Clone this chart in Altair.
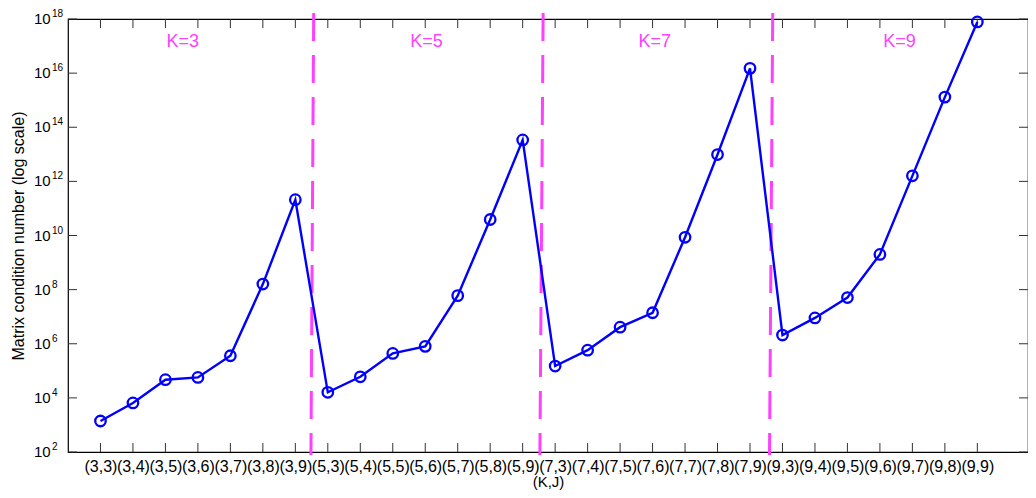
import altair as alt
import pandas as pd

# ---- data ----
labels = ["(3,3)", "(3,4)", "(3,5)", "(3,6)", "(3,7)", "(3,8)", "(3,9)",
          "(5,3)", "(5,4)", "(5,5)", "(5,6)", "(5,7)", "(5,8)", "(5,9)",
          "(7,3)", "(7,4)", "(7,5)", "(7,6)", "(7,7)", "(7,8)", "(7,9)",
          "(9,3)", "(9,4)", "(9,5)", "(9,6)", "(9,7)", "(9,8)", "(9,9)"]
cond = [1.4e3, 6.5e3, 4.7e4, 5.7e4, 3.6e5, 1.6e8, 2.1e11,
        1.6e4, 6.0e4, 4.4e5, 8.0e5, 6.0e7, 3.9e10, 3.4e13,
        1.5e5, 5.8e5, 4.1e6, 1.4e7, 8.6e9, 9.8e12, 1.5e16,
        2.1e6, 9.0e6, 5.1e7, 2.0e9, 1.6e12, 1.3e15, 7.8e17]
decades = [1e2, 1e4, 1e6, 1e8, 1e10, 1e12, 1e14, 1e16, 1e18]
exponents = ["2", "4", "6", "8", "10", "12", "14", "16", "18"]
sep_top = [7.565, 14.63, 21.7]
sep_bottom = [7.48, 14.53, 21.6]
group_names = ["K=3", "K=5", "K=7", "K=9"]
group_pos = [3.53, 11.04, 18.07, 25.6]

W, H = 960, 433
XDOM = [0, 29.56]
YDOM = [1e2, 1e18]
BLUE = "#0000ff"
MAGENTA = "#ff40ff"
FONT = "Liberation Sans"

df = pd.DataFrame({"x": list(range(1, len(labels) + 1)), "label": labels, "y": cond})
dec_df = pd.DataFrame({"y": decades, "e": exponents})
sep_df = pd.DataFrame({"x": sep_top, "xb": sep_bottom})
grp_df = pd.DataFrame({"g": group_names, "x": group_pos})

xscale = alt.Scale(domain=XDOM, nice=False, zero=False)
yscale = alt.Scale(type="log", domain=YDOM, nice=False)

label_js = "[" + ",".join("'" + s + "'" for s in labels) + "]"

xaxis = alt.Axis(values=list(range(1, len(labels) + 1)),
                 labelExpr=label_js + "[datum.value - 1]",
                 labelFont=FONT, labelFontSize=16, labelColor="black",
                 labelPadding=6, labelOverlap=False, labelBound=False,
                 labelFlush=False, ticks=False, domain=False, grid=False,
                 title="(K,J)", titleFont=FONT, titleFontSize=15,
                 titleFontWeight="normal", titleColor="black", titlePadding=0)
yaxis = alt.Axis(labels=False, ticks=False, domain=False, grid=False,
                 title="Matrix condition number (log scale)",
                 titleFont=FONT, titleFontSize=16, titleFontWeight="normal",
                 titleColor="black", titleX=-50, titleY=H / 2,
                 titleAngle=270, titleAlign="center", titleBaseline="middle")

X = alt.X("x:Q", scale=xscale, axis=xaxis)
Y = alt.Y("y:Q", scale=yscale, axis=yaxis)

base = alt.Chart(df)

line = base.mark_line(color=BLUE, strokeWidth=2.4).encode(x=X, y=Y)
points = base.mark_point(shape="circle", filled=False, color=BLUE,
                         strokeWidth=2.3, size=110, opacity=1).encode(x=X, y=Y)

tick_color = "#333333"
tlen = 9
xt_bottom = base.mark_rule(color=tick_color, strokeWidth=1).encode(
    x=X, y=alt.value(H), y2=alt.value(H - tlen))
xt_top = base.mark_rule(color=tick_color, strokeWidth=1).encode(
    x=X, y=alt.value(0), y2=alt.value(tlen))

dec = alt.Chart(dec_df)
yt_left = dec.mark_rule(color=tick_color, strokeWidth=1).encode(
    y=Y, x=alt.value(0), x2=alt.value(tlen))
yt_right = dec.mark_rule(color=tick_color, strokeWidth=1).encode(
    y=Y, x=alt.value(W), x2=alt.value(W - tlen))

ten = dec.mark_text(align="left", baseline="middle", font=FONT, fontSize=15,
                    color="black").encode(
    y=Y, x=alt.value(-34), text=alt.value("10"))
exp = dec.mark_text(align="left", baseline="middle", font=FONT, fontSize=10,
                    color="black", dy=-5).encode(
    y=Y, x=alt.value(-16), text="e:N")

seps = alt.Chart(sep_df).mark_rule(color=MAGENTA, strokeWidth=3,
                                   strokeDash=[28, 14]).encode(
    x=X, x2="xb:Q", y=alt.value(-6), y2=alt.value(H + 3))

groups = alt.Chart(grp_df).mark_text(font=FONT, fontSize=18, color=MAGENTA,
                                     align="center", baseline="middle").encode(
    x=X, y=alt.value(23), text="g:N")

chart = alt.layer(
    xt_bottom, xt_top, yt_left, yt_right, ten, exp, seps, line, points, groups
).properties(
    width=W, height=H,
    autosize=alt.AutoSizeParams(type="none"),
    padding={"left": 60, "top": 11, "right": 0, "bottom": 38},
    background="white",
).configure_view(stroke="black", strokeWidth=1.2)

chart.save("out.html", embed_options={"renderer": "svg", "actions": False})
